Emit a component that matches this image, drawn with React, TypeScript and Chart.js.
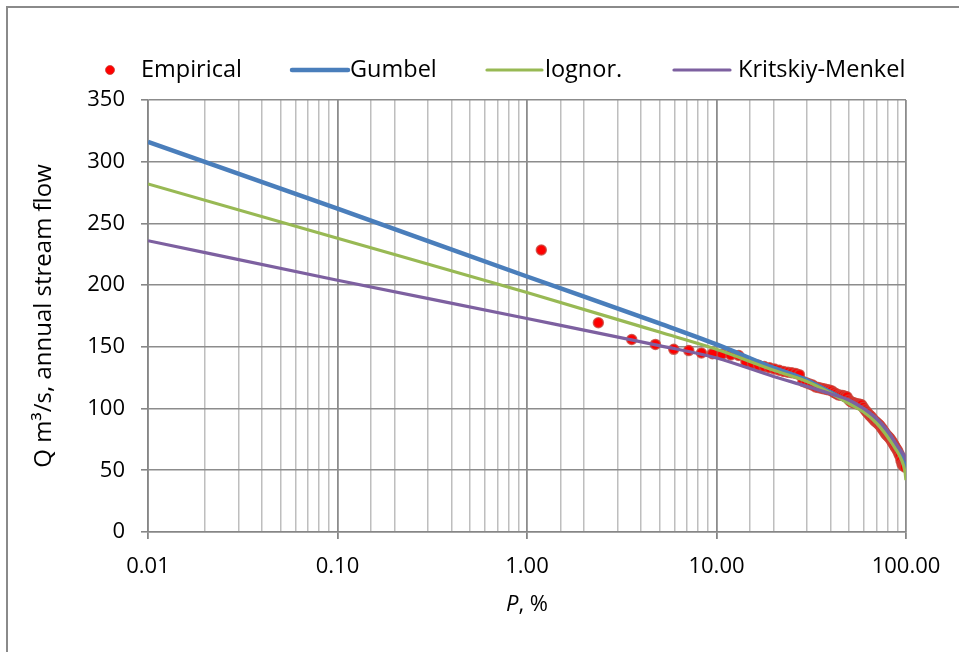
import React, { useEffect, useRef } from 'react';
import { Chart, registerables } from 'chart.js';

Chart.register(...registerables);

// ---------- data ----------
const SERIES_NAMES = ['Empirical', 'Gumbel', 'lognor.', 'Kritskiy-Menkel'];

// empirical exceedance probabilities, %
const EMP_P = [
  1.19, 2.38, 3.57, 4.76, 5.95, 7.14, 8.33, 9.52, 10.71, 11.9,
  13.1, 14.29, 15.48, 16.67, 17.86, 19.05, 20.24, 21.43, 22.62, 23.81,
  25.0, 26.19, 27.38, 28.57, 29.76, 30.95, 32.14, 33.33, 34.52, 35.71,
  36.9, 38.1, 39.29, 40.48, 41.67, 42.86, 44.05, 45.24, 46.43, 47.62,
  48.81, 50.0, 51.19, 52.38, 53.57, 54.76, 55.95, 57.14, 58.33, 59.52,
  60.71, 61.9, 63.1, 64.29, 65.48, 66.67, 67.86, 69.05, 70.24, 71.43,
  72.62, 73.81, 75.0, 76.19, 77.38, 78.57, 79.76, 80.95, 82.14, 83.33,
  84.52, 85.71, 86.9, 88.1, 89.29, 90.48, 91.67, 92.86, 94.05, 95.24,
  96.43, 97.62, 98.81,
];
// empirical annual flows, m3/s
const EMP_Q = [
  228.5, 169.5, 156, 152, 148, 147, 145, 144.5, 144, 143.5,
  143, 138, 136.5, 135, 134, 133, 132, 131, 130, 129.5,
  129, 128.5, 127.5, 122, 121, 120, 119, 117.5, 117, 116.5,
  116, 115.5, 115, 114.5, 113, 112, 111, 110.8, 110.5, 110,
  109.5, 107, 105.5, 105, 104.5, 104, 103.8, 103.5, 103, 101,
  99, 97.5, 96, 94.5, 93.5, 92, 90.5, 89.5, 88.5, 87.5,
  86.5, 85, 83.5, 82, 80.5, 79, 78, 77, 76, 74.5,
  73, 71.5, 70, 68.5, 67, 65.5, 63.5, 61.5, 58, 55,
  54, 53.5, 52.5,
];

// theoretical curves
const CURVE_P = [0.01, 0.1, 1, 5, 10, 20, 30, 40, 50, 60, 70, 80, 90, 95, 97, 98, 99, 99.9];
const GUMBEL_Q = [316, 262, 207, 169, 152, 133, 123, 113, 105, 98, 90, 80, 68, 61, 57, 55, 53, 49];
const LOGNOR_Q = [282, 238, 194, 162, 148, 131, 122, 112.5, 104, 97, 88, 77, 65, 58, 54, 51, 48, 42];
const KM_Q = [236, 204, 173, 151, 141, 126, 118, 112, 107, 100, 92, 82, 70, 65, 63, 62, 61, 58];

const X_DECADES = [0.01, 0.1, 1, 10, 100];
const X_TICK_LABELS = ['0.01', '0.10', '1.00', '10.00', '100.00'];
const Y_MIN = 0;
const Y_MAX = 350;
const Y_STEP = 50;

const Y_TITLE = 'Q m\u00B3/s, annual stream flow';
const X_TITLE_ITALIC = 'P';
const X_TITLE_REST = ', %';

// ---------- styles ----------
const FONT = '"Open Sans", "Liberation Sans", sans-serif';
const COLORS = {
  empFill: '#ff0000',
  empBorder: 'rgba(200, 70, 60, 0.8)',
  gumbel: '#4a7ebb',
  lognor: '#98b954',
  km: '#7d60a0',
  gridMajor: '#8c8c8c',
  gridMinor: '#bebebe',
  axis: '#868686',
};

const isDecade = (v: number) => {
  const l = Math.log10(v);
  return Math.abs(l - Math.round(l)) < 1e-6;
};

const legendPlugin = {
  id: 'excelLegend',
  afterDraw(chart: any) {
    const { ctx } = chart;
    const y = 70;
    const items = [
      { kind: 'dot', markX: 110, markW: 0, textX: 141 },
      { kind: 'line', markX: 292, markW: 56, textX: 350 },
      { kind: 'line', markX: 487, markW: 55, textX: 545 },
      { kind: 'line', markX: 674, markW: 56, textX: 738 },
    ];
    ctx.save();
    ctx.font = `23.5px ${FONT}`;
    ctx.textBaseline = 'middle';
    ctx.textAlign = 'left';
    chart.data.datasets.forEach((ds: any, i: number) => {
      const it = items[i];
      if (!it) return;
      if (it.kind === 'dot') {
        ctx.beginPath();
        ctx.arc(it.markX, y, 4.5, 0, Math.PI * 2);
        ctx.fillStyle = ds.backgroundColor;
        ctx.fill();
        ctx.lineWidth = 1;
        ctx.strokeStyle = ds.borderColor;
        ctx.stroke();
      } else {
        ctx.beginPath();
        ctx.moveTo(it.markX, y);
        ctx.lineTo(it.markX + it.markW, y);
        ctx.strokeStyle = ds.borderColor;
        ctx.lineWidth = ds.borderWidth;
        ctx.lineCap = 'round';
        ctx.stroke();
      }
      ctx.fillStyle = '#000';
      ctx.fillText(SERIES_NAMES[i], it.textX, y);
    });

    // x-axis title with italic P
    const area = chart.chartArea;
    const cx = (area.left + area.right) / 2;
    const ty = 605;
    ctx.font = `italic 22px ${FONT}`;
    const w1 = ctx.measureText(X_TITLE_ITALIC).width;
    ctx.font = `22px ${FONT}`;
    const w2 = ctx.measureText(X_TITLE_REST).width;
    const start = cx - (w1 + w2) / 2;
    ctx.font = `italic 22px ${FONT}`;
    ctx.fillText(X_TITLE_ITALIC, start, ty);
    ctx.font = `22px ${FONT}`;
    ctx.fillText(X_TITLE_REST, start + w1, ty);
    ctx.restore();
  },
};

export default function App() {
  const canvasRef = useRef<HTMLCanvasElement | null>(null);

  useEffect(() => {
    document.body.style.margin = '0';
    const canvas = canvasRef.current;
    if (!canvas) return;

    const chart = new Chart(canvas, {
      type: 'scatter',
      data: {
        datasets: [
          {
            label: SERIES_NAMES[0],
            data: EMP_P.map((p, i) => ({ x: p, y: EMP_Q[i] })),
            showLine: false,
            pointRadius: 5,
            pointBorderWidth: 1.5,
            backgroundColor: COLORS.empFill,
            borderColor: COLORS.empBorder,
            pointBackgroundColor: COLORS.empFill,
            pointBorderColor: COLORS.empBorder,
            order: 4,
          },
          {
            label: SERIES_NAMES[1],
            data: CURVE_P.map((p, i) => ({ x: p, y: GUMBEL_Q[i] })),
            showLine: true,
            pointRadius: 0,
            borderColor: COLORS.gumbel,
            backgroundColor: COLORS.gumbel,
            borderWidth: 4.5,
            cubicInterpolationMode: 'monotone',
            order: 3,
          },
          {
            label: SERIES_NAMES[2],
            data: CURVE_P.map((p, i) => ({ x: p, y: LOGNOR_Q[i] })),
            showLine: true,
            pointRadius: 0,
            borderColor: COLORS.lognor,
            backgroundColor: COLORS.lognor,
            borderWidth: 3.2,
            cubicInterpolationMode: 'monotone',
            order: 2,
          },
          {
            label: SERIES_NAMES[3],
            data: CURVE_P.map((p, i) => ({ x: p, y: KM_Q[i] })),
            showLine: true,
            pointRadius: 0,
            borderColor: COLORS.km,
            backgroundColor: COLORS.km,
            borderWidth: 3.2,
            cubicInterpolationMode: 'monotone',
            order: 1,
          },
        ],
      } as any,
      options: {
        responsive: false,
        animation: false,
        devicePixelRatio: 1,
        layout: { padding: { top: 100, right: 53, left: 0, bottom: 0 } },
        plugins: {
          legend: { display: false },
          tooltip: { enabled: false },
          title: { display: false },
        },
        scales: {
          x: {
            type: 'logarithmic',
            min: X_DECADES[0],
            max: X_DECADES[X_DECADES.length - 1],
            afterFit: (scale: any) => {
              scale.height = 120;
            },
            border: { display: true, color: COLORS.axis, width: 1.5 },
            grid: {
              drawTicks: true,
              tickLength: 7,
              color: (c: any) => (c.tick && isDecade(c.tick.value) ? COLORS.gridMajor : COLORS.gridMinor),
              lineWidth: (c: any) => (c.tick && isDecade(c.tick.value) ? 1.8 : 1.5),
              tickColor: (c: any) => (c.tick && isDecade(c.tick.value) ? COLORS.axis : 'rgba(0,0,0,0)'),
            },
            ticks: {
              autoSkip: false,
              maxRotation: 0,
              minRotation: 0,
              padding: 15,
              color: '#000',
              font: { family: FONT, size: 22 },
              callback: (value: any) => {
                const v = Number(value);
                if (!isDecade(v)) return '';
                const idx = X_DECADES.findIndex((d) => Math.abs(Math.log10(d) - Math.log10(v)) < 1e-6);
                return idx >= 0 ? X_TICK_LABELS[idx] : '';
              },
            },
            title: { display: false },
          },
          y: {
            type: 'linear',
            min: Y_MIN,
            max: Y_MAX,
            afterFit: (scale: any) => {
              scale.width = 148;
            },
            border: { display: true, color: COLORS.axis, width: 1.5 },
            grid: {
              color: COLORS.gridMajor,
              lineWidth: 1.6,
              tickLength: 7,
              tickColor: COLORS.axis,
            },
            ticks: {
              stepSize: Y_STEP,
              padding: 16,
              color: '#000',
              font: { family: FONT, size: 22 },
            },
            title: {
              display: true,
              text: Y_TITLE,
              color: '#000',
              font: { family: FONT, size: 24 },
              padding: { top: 30, bottom: 0 },
            },
          },
        },
      } as any,
      plugins: [legendPlugin],
    });

    return () => {
      chart.destroy();
    };
  }, []);

  return (
    <div style={{ position: 'relative', width: 959, height: 652, overflow: 'hidden', background: '#fff' }}>
      <div
        style={{
          position: 'absolute',
          left: 6,
          top: 6,
          width: 1100,
          height: 1100,
          border: '2px solid #8a8a8a',
          boxSizing: 'border-box',
        }}
      />
      <canvas
        ref={canvasRef}
        width={959}
        height={652}
        style={{ position: 'absolute', left: 0, top: 0, width: 959, height: 652, display: 'block' }}
      />
    </div>
  );
}
